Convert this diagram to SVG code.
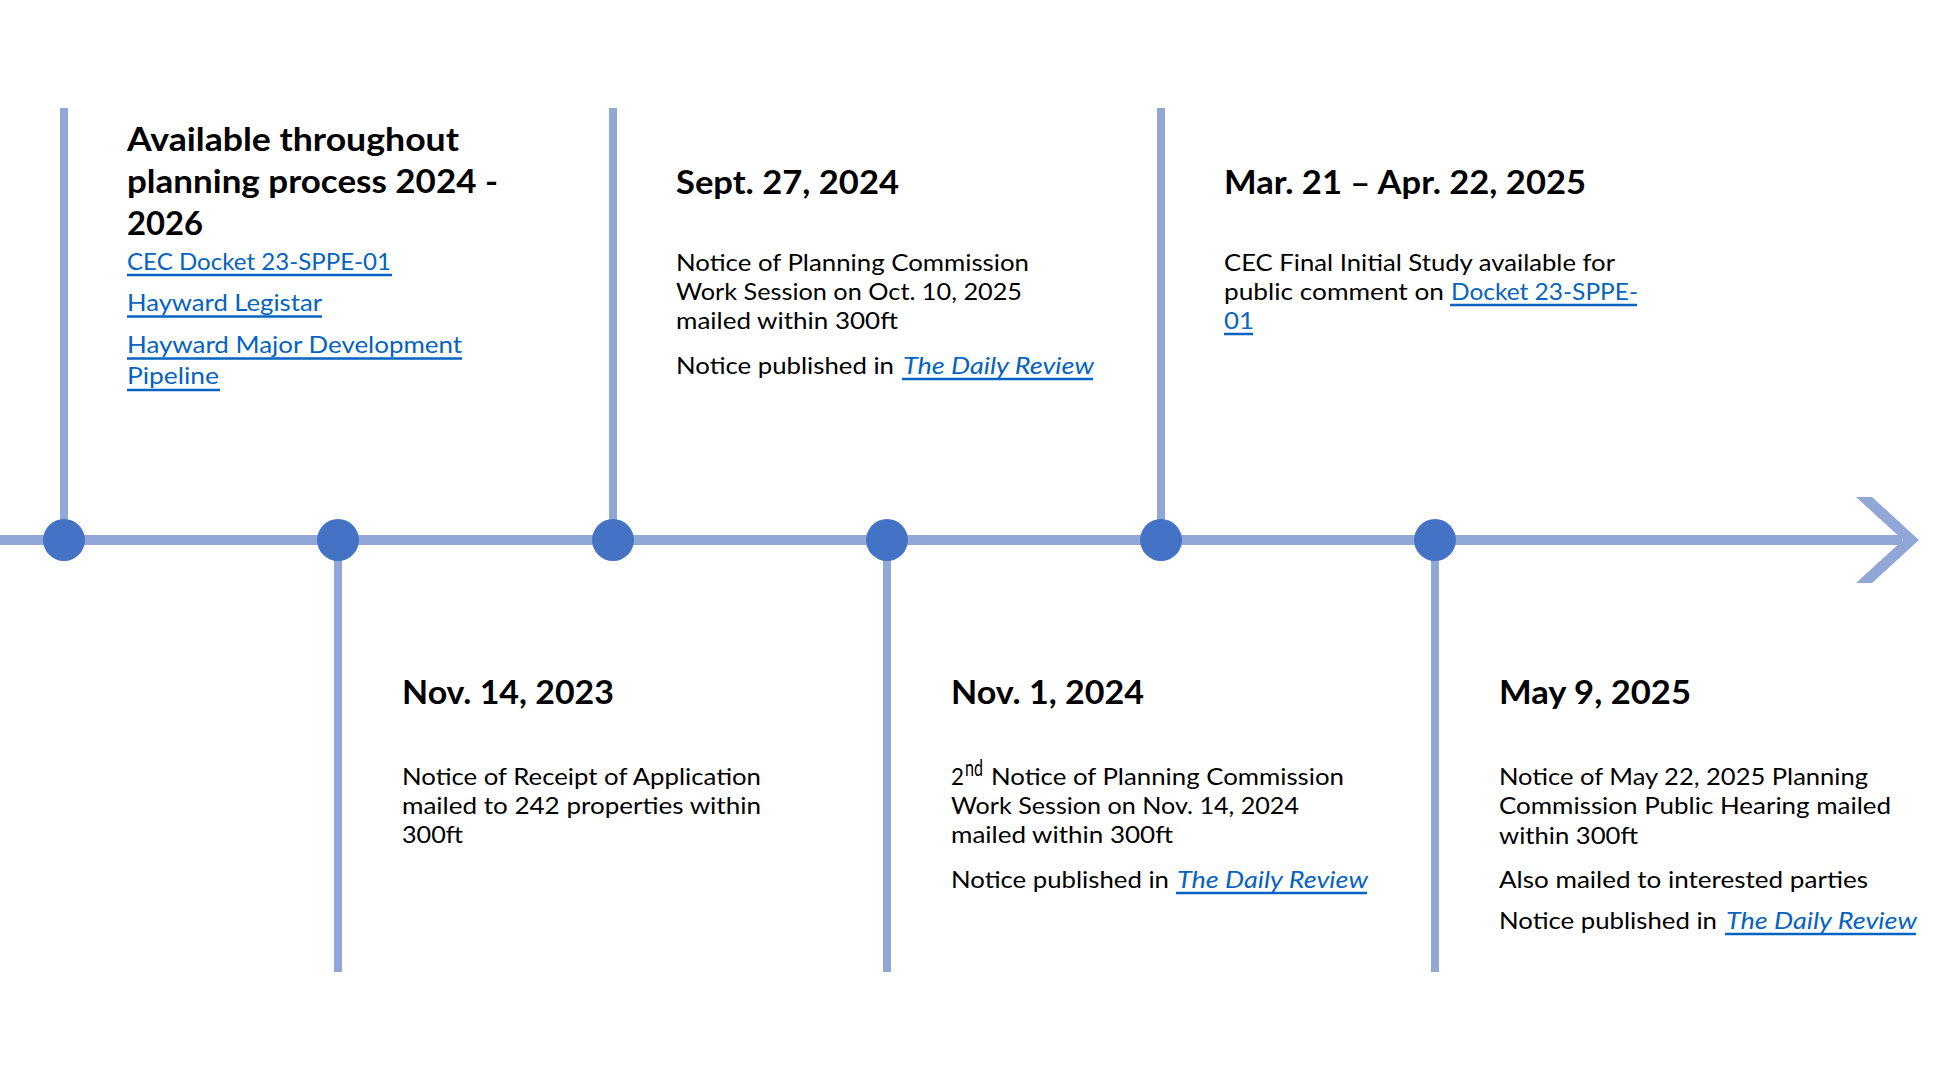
<svg xmlns="http://www.w3.org/2000/svg" width="1934" height="1080" viewBox="0 0 1934 1080">
<style>
.h{font-family:Lato,"Open Sans","Liberation Sans",sans-serif;font-weight:bold;font-size:33px;fill:#000}
.b{font-family:Lato,"Open Sans","Liberation Sans",sans-serif;font-size:24px;fill:#000}
.lk{fill:#0563C1}
.it{font-style:italic}
.ul{stroke:#0563C1;stroke-width:2.5}
.stem{stroke:#91A7D7;stroke-width:8}
.dot{fill:#4472C4}
</style>
<rect width="1934" height="1080" fill="#fff"/>
<g id="connectors">
  <rect x="0" y="535" width="1902" height="10" fill="#91A7D7"/>
  <polygon points="1856,497 1872,497 1919,540 1872,583 1856,583 1903,540" fill="#91A7D7"/>
  <line class="stem" x1="64" y1="108" x2="64" y2="540"/>
  <line class="stem" x1="338" y1="540" x2="338" y2="972"/>
  <line class="stem" x1="613" y1="108" x2="613" y2="540"/>
  <line class="stem" x1="887" y1="540" x2="887" y2="972"/>
  <line class="stem" x1="1161" y1="108" x2="1161" y2="540"/>
  <line class="stem" x1="1435" y1="540" x2="1435" y2="972"/>
</g>
<g id="event-ongoing">
  <circle class="dot" cx="64" cy="540" r="21"/>
  <text class="h" x="127" y="151" textLength="332" lengthAdjust="spacingAndGlyphs">Available throughout</text>
  <text class="h" x="127" y="193" textLength="371" lengthAdjust="spacingAndGlyphs">planning process 2024 -</text>
  <text class="h" x="127" y="235" textLength="76" lengthAdjust="spacingAndGlyphs">2026</text>
  <text class="b lk" x="127" y="270" textLength="264" lengthAdjust="spacingAndGlyphs">CEC Docket 23-SPPE-01</text>
  <line class="ul" x1="127" y1="275" x2="392" y2="275"/>
  <text class="b lk" x="127" y="311" textLength="195" lengthAdjust="spacingAndGlyphs">Hayward Legistar</text>
  <line class="ul" x1="127" y1="316.5" x2="322" y2="316.5"/>
  <text class="b lk" x="127" y="353" textLength="335" lengthAdjust="spacingAndGlyphs">Hayward Major Development</text>
  <line class="ul" x1="127" y1="358.5" x2="462" y2="358.5"/>
  <text class="b lk" x="127" y="384" textLength="92" lengthAdjust="spacingAndGlyphs">Pipeline</text>
  <line class="ul" x1="127" y1="390" x2="220" y2="390"/>
</g>
<g id="event-nov-14-2023">
  <circle class="dot" cx="338" cy="540" r="21"/>
  <text class="h" x="402" y="704" textLength="212" lengthAdjust="spacingAndGlyphs">Nov. 14, 2023</text>
  <text class="b" x="402" y="785" textLength="359" lengthAdjust="spacingAndGlyphs">Notice of Receipt of Application</text>
  <text class="b" x="402" y="814" textLength="359" lengthAdjust="spacingAndGlyphs">mailed to 242 properties within</text>
  <text class="b" x="402" y="843" textLength="61" lengthAdjust="spacingAndGlyphs">300ft</text>
</g>
<g id="event-sept-27-2024">
  <circle class="dot" cx="613" cy="540" r="21"/>
  <text class="h" x="676" y="194" textLength="223" lengthAdjust="spacingAndGlyphs">Sept. 27, 2024</text>
  <text class="b" x="676" y="271" textLength="353" lengthAdjust="spacingAndGlyphs">Notice of Planning Commission</text>
  <text class="b" x="676" y="300" textLength="346" lengthAdjust="spacingAndGlyphs">Work Session on Oct. 10, 2025</text>
  <text class="b" x="676" y="329" textLength="222" lengthAdjust="spacingAndGlyphs">mailed within 300ft</text>
  <text class="b" x="676" y="374" textLength="218" lengthAdjust="spacingAndGlyphs">Notice published in</text>
  <text class="b lk it" x="903" y="374" textLength="191" lengthAdjust="spacingAndGlyphs">The Daily Review</text>
  <line class="ul" x1="902" y1="379" x2="1093" y2="379"/>
</g>
<g id="event-nov-1-2024">
  <circle class="dot" cx="887" cy="540" r="21"/>
  <text class="h" x="951" y="704" textLength="193" lengthAdjust="spacingAndGlyphs">Nov. 1, 2024</text>
  <text class="b" x="951" y="785" textLength="13" lengthAdjust="spacingAndGlyphs">2</text>
  <text class="b" x="965" y="776" font-size="15" textLength="18" lengthAdjust="spacingAndGlyphs">nd</text>
  <text class="b" x="991" y="785" textLength="353" lengthAdjust="spacingAndGlyphs">Notice of Planning Commission</text>
  <text class="b" x="951" y="814" textLength="348" lengthAdjust="spacingAndGlyphs">Work Session on Nov. 14, 2024</text>
  <text class="b" x="951" y="843" textLength="222" lengthAdjust="spacingAndGlyphs">mailed within 300ft</text>
  <text class="b" x="951" y="888" textLength="218" lengthAdjust="spacingAndGlyphs">Notice published in</text>
  <text class="b lk it" x="1177" y="888" textLength="191" lengthAdjust="spacingAndGlyphs">The Daily Review</text>
  <line class="ul" x1="1176" y1="893" x2="1367" y2="893"/>
</g>
<g id="event-mar-apr-2025">
  <circle class="dot" cx="1161" cy="540" r="21"/>
  <text class="h" x="1224" y="194" textLength="362" lengthAdjust="spacingAndGlyphs">Mar. 21 – Apr. 22, 2025</text>
  <text class="b" x="1224" y="271" textLength="391" lengthAdjust="spacingAndGlyphs">CEC Final Initial Study available for</text>
  <text class="b" x="1224" y="300" textLength="220" lengthAdjust="spacingAndGlyphs">public comment on</text>
  <text class="b lk" x="1451" y="300" textLength="187" lengthAdjust="spacingAndGlyphs">Docket 23-SPPE-</text>
  <line class="ul" x1="1450" y1="305" x2="1637" y2="305"/>
  <text class="b lk" x="1224" y="329" textLength="30" lengthAdjust="spacingAndGlyphs">01</text>
  <line class="ul" x1="1224" y1="334" x2="1253" y2="334"/>
</g>
<g id="event-may-9-2025">
  <circle class="dot" cx="1435" cy="540" r="21"/>
  <text class="h" x="1499" y="704" textLength="192" lengthAdjust="spacingAndGlyphs">May 9, 2025</text>
  <text class="b" x="1499" y="785" textLength="369" lengthAdjust="spacingAndGlyphs">Notice of May 22, 2025 Planning</text>
  <text class="b" x="1499" y="814" textLength="392" lengthAdjust="spacingAndGlyphs">Commission Public Hearing mailed</text>
  <text class="b" x="1499" y="844" textLength="139" lengthAdjust="spacingAndGlyphs">within 300ft</text>
  <text class="b" x="1499" y="888" textLength="369" lengthAdjust="spacingAndGlyphs">Also mailed to interested parties</text>
  <text class="b" x="1499" y="929" textLength="218" lengthAdjust="spacingAndGlyphs">Notice published in</text>
  <text class="b lk it" x="1726" y="929" textLength="191" lengthAdjust="spacingAndGlyphs">The Daily Review</text>
  <line class="ul" x1="1725" y1="934" x2="1916" y2="934"/>
</g>
</svg>
